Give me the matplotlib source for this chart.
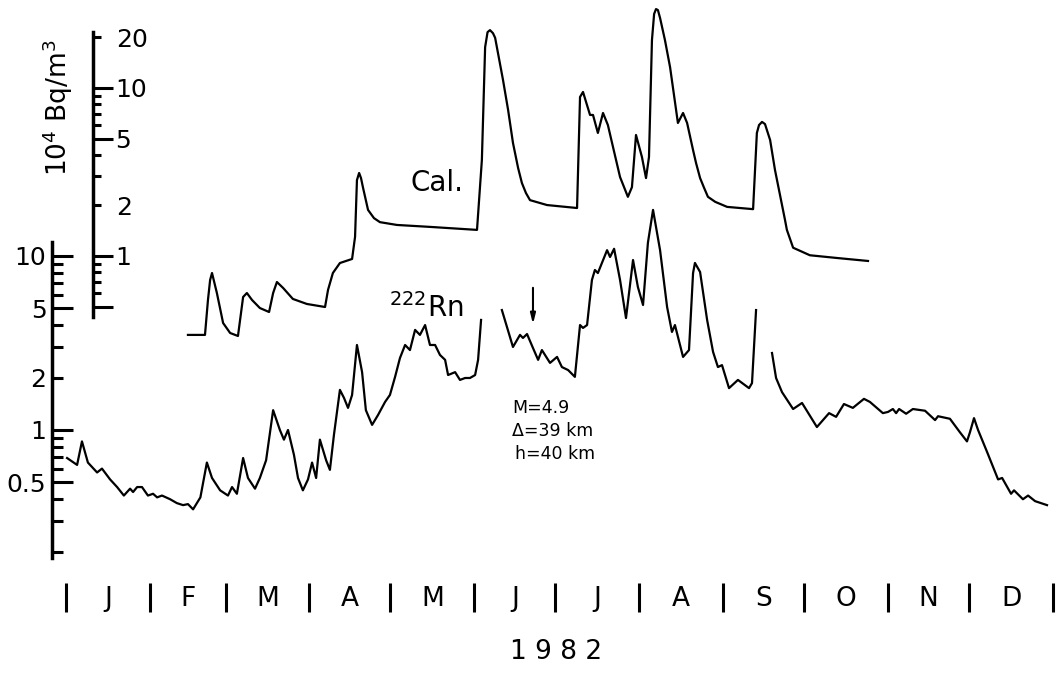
import numpy as np
import matplotlib.pyplot as plt
from matplotlib.ticker import FixedLocator, FuncFormatter, NullFormatter

# 222Rn record, day of 1982 -> concentration (three pieces, gaps between them)
rn_day_1 = [0.4, 4.1, 5.9, 8.1, 11.5, 13.3, 16.3, 18.9, 21.4, 23.7, 24.8, 26.3, 28.1,
            30.3, 32.2, 33.7, 35.5, 38.5, 41.0, 43.3, 45.1, 47.0, 49.7, 52.1, 54.0,
            57.0, 59.9, 61.4, 63.2, 65.5, 67.3, 69.9, 71.7, 74.0, 76.6, 79.1, 80.6,
            82.1, 84.3, 85.8, 87.6, 89.5, 91.0, 92.5, 93.9, 96.2, 97.6, 99.1, 101.3,
            102.8, 104.3, 105.8, 107.6, 109.5, 110.9, 113.2, 115.4, 118.0, 119.8,
            121.7, 123.5, 125.4, 127.2, 129.1, 130.9, 132.8, 134.6, 136.5, 138.3,
            140.2, 141.3, 143.9, 145.7, 147.6, 149.4, 151.3, 152.4, 153.5]
rn_val_1 = [0.69, 0.63, 0.86, 0.65, 0.57, 0.60, 0.52, 0.47, 0.42, 0.46, 0.44, 0.47, 0.47,
            0.42, 0.43, 0.41, 0.42, 0.40, 0.38, 0.37, 0.375, 0.35, 0.41, 0.65, 0.53,
            0.45, 0.42, 0.47, 0.43, 0.69, 0.53, 0.46, 0.53, 0.67, 1.30, 1.0, 0.88,
            1.0, 0.72, 0.53, 0.45, 0.52, 0.65, 0.53, 0.88, 0.67, 0.59, 0.94, 1.70,
            1.53, 1.34, 1.59, 3.08, 2.15, 1.30, 1.07, 1.22, 1.45, 1.59,
            2.02, 2.59, 3.08, 2.88, 3.76, 3.52, 4.01, 3.08, 3.08, 2.70,
            2.53, 2.07, 2.15, 1.94, 1.99, 1.99, 2.07, 2.53, 4.29]

rn_day_2 = [161.2, 165.3, 167.9, 169.0, 170.5, 172.7, 174.6, 176.0, 179.0, 181.6, 183.4,
            185.7, 188.2, 190.1, 191.2, 192.7, 194.5, 195.6, 196.7, 200.1, 201.2, 202.7,
            204.9, 207.1, 209.7, 211.5, 213.4, 215.2, 217.1, 219.7, 222.3, 224.1, 225.2,
            228.2, 230.4, 231.9, 232.6, 234.5, 237.1, 239.3, 241.1, 242.6, 245.2, 248.5,
            252.6, 253.7, 255.2]
rn_val_2 = [4.89, 3.0, 3.52, 3.38, 3.56, 2.96, 2.53, 2.88, 2.43, 2.63, 2.30,
            2.21, 2.02, 4.01, 3.86, 4.01, 7.28, 8.31, 7.98, 10.8, 9.87, 11.0,
            7.28, 4.40, 9.48, 6.63, 5.23, 11.9, 18.4, 10.8, 5.09, 3.66, 4.01,
            2.63, 2.88, 7.98, 9.12, 8.09, 4.29, 2.81, 2.30, 2.36, 1.74, 1.94,
            1.74, 1.86, 4.89]

rn_day_3 = [261.1, 262.6, 264.8, 268.9, 272.2, 277.7, 282.2, 284.8, 287.7, 291.0, 295.1,
            297.3, 302.1, 304.0, 305.8, 307.0, 308.1, 310.7, 313.2, 317.7, 321.4, 322.5,
            326.9, 330.6, 333.2, 334.3, 335.8, 337.3, 340.6, 344.7, 346.2, 349.5, 350.6,
            353.9, 355.8, 358.4, 362.8]
rn_val_3 = [2.77, 1.99, 1.65, 1.32, 1.43, 1.04, 1.25, 1.19, 1.41, 1.34, 1.51,
            1.45, 1.25, 1.27, 1.32, 1.25, 1.32, 1.24, 1.32, 1.29, 1.14, 1.20,
            1.16, 0.97, 0.86, 0.97, 1.17, 1.0, 0.75, 0.52, 0.53, 0.43, 0.45,
            0.40, 0.42, 0.39, 0.37]

# calculated curve, 10^4 Bq/m3
cal_day = [45.1, 51.4, 52.5, 53.3, 54.0, 55.8, 58.1, 60.7, 63.6, 65.5, 66.9, 68.8, 71.7,
           75.1, 76.6, 78.0, 80.3, 83.9, 89.1, 95.8, 96.9, 98.7, 101.3, 105.8, 106.9,
           107.6, 108.4, 109.1, 109.8, 111.7, 113.9, 116.1, 122.4, 134.6, 152.0, 153.8,
           155.0, 155.9, 156.8, 157.9, 158.7, 161.6, 163.5, 165.3, 167.2, 168.6, 170.1,
           171.6, 177.9, 189.0, 190.1, 191.2, 193.8, 194.9, 196.7, 198.6, 200.4, 202.3,
           204.9, 207.8, 209.3, 210.8, 213.0, 214.5, 215.6, 216.7, 217.5, 218.2, 218.9,
           219.7, 221.5, 223.4, 226.3, 228.2, 229.7, 231.9, 233.0, 234.5, 236.0, 237.4,
           240.1, 244.5, 254.1, 255.5, 256.3, 257.4, 258.5, 260.4, 262.2, 264.8, 265.9,
           266.6, 268.9, 275.1, 285.1, 296.6]
cal_val = [0.339, 0.339, 0.547, 0.72, 0.792, 0.602, 0.399, 0.348, 0.334, 0.570, 0.602,
           0.547, 0.490, 0.464, 0.602, 0.700, 0.645, 0.555, 0.518, 0.497, 0.628, 0.792,
           0.908, 0.960, 1.30, 2.83, 3.12, 2.91, 2.57, 1.88, 1.68, 1.59, 1.53, 1.49, 1.43,
           3.73, 17.5, 21.5, 22.1, 21.2, 19.9, 11.2, 7.4, 4.71, 3.34, 2.72, 2.37, 2.15,
           2.01, 1.93, 8.84, 9.47, 6.91, 6.91, 5.40, 7.10, 6.02, 4.45, 2.95, 2.25, 2.57,
           5.25, 3.88, 2.91, 3.88, 19.3, 27.6, 29.5, 29.1, 26.1, 19.3, 13.3, 6.19, 7.10,
           6.19, 4.27, 3.58, 2.91, 2.54, 2.25, 2.10, 1.96, 1.90, 5.40, 6.02, 6.28, 6.1,
           4.90, 3.25, 2.01, 1.64, 1.43, 1.12, 1.01, 0.973, 0.934]

month_edges = [0, 31, 59, 90, 120, 151, 181, 212, 243, 273, 304, 334, 365]
month_names = ['J', 'F', 'M', 'A', 'M', 'J', 'J', 'A', 'S', 'O', 'N', 'D']

rn_major = [0.5, 1, 5, 10]
rn_minor = [0.2, 0.3, 0.4, 0.6, 0.7, 0.8, 0.9, 2, 3, 4, 6, 7, 8, 9]
cal_major = [0.5, 1, 5, 10]
cal_minor = [0.6, 0.7, 0.8, 0.9, 2, 3, 4, 6, 7, 8, 9, 20]

W, H = 1061, 675
fig = plt.figure(figsize=(W / 100, H / 100), dpi=100)
rect = [52 / W, 115 / H, 1009 / W, 555 / H]
ax = fig.add_axes(rect)
ax2 = fig.add_axes(rect)

xlim = (-14 / 2.704, 995 / 2.704)
for a in (ax, ax2):
    a.set_yscale('log')
    a.set_xlim(*xlim)
    a.patch.set_visible(False)
ax.set_ylim(0.179, 277.0)
ax2.set_ylim(0.0155, 31.19)

lw = 1.6
for d, v in [(rn_day_1, rn_val_1), (rn_day_2, rn_val_2), (rn_day_3, rn_val_3)]:
    ax.plot(d, v, color='black', lw=lw, solid_joinstyle='round')
ax2.plot(cal_day, cal_val, color='black', lw=lw, solid_joinstyle='round')

# lower (Rn) axis
for s in ('top', 'right'):
    ax.spines[s].set_visible(False)
ax.spines['left'].set_linewidth(2.5)
ax.spines['left'].set_bounds(0.184, 12)
ax.yaxis.set_major_locator(FixedLocator(rn_major))
ax.yaxis.set_major_formatter(FuncFormatter(lambda v, p: '%g' % v))
ax.yaxis.set_minor_locator(FixedLocator(rn_minor))
ax.yaxis.set_minor_formatter(FuncFormatter(lambda v, p: '%g' % v if v == 2 else ''))
ax.tick_params(axis='y', which='major', direction='in', length=15, width=2.2,
               pad=4, labelsize=18)
ax.tick_params(axis='y', which='minor', direction='in', length=8, width=2.2,
               pad=4, labelsize=18)

# month separators below the plot
ax.spines['bottom'].set_position(('outward', 16.6))
ax.spines['bottom'].set_visible(False)
ax.xaxis.set_major_locator(FixedLocator(month_edges))
ax.xaxis.set_major_formatter(NullFormatter())
mids = [(a + b) / 2 for a, b in zip(month_edges[:-1], month_edges[1:])]
ax.xaxis.set_minor_locator(FixedLocator(mids))
ax.xaxis.set_minor_formatter(FuncFormatter(lambda v, p: month_names[p]))
ax.tick_params(axis='x', which='major', direction='out', length=21, width=2.2)
ax.tick_params(axis='x', which='minor', length=0, pad=2, labelsize=19)
ax.set_xlabel('1 9 8 2', fontsize=19, va='center')
ax.xaxis.set_label_coords(0.5, -0.1658)

# upper (Cal.) axis
for s in ('top', 'left', 'bottom'):
    ax2.spines[s].set_visible(False)
ax2.xaxis.set_visible(False)
ax2.yaxis.tick_right()
ax2.spines['right'].set_position(('axes', 41 / 1009))
ax2.spines['right'].set_linewidth(2.5)
ax2.spines['right'].set_bounds(0.433, 21.6)
ax2.yaxis.set_major_locator(FixedLocator(cal_major))
ax2.yaxis.set_major_formatter(FuncFormatter(lambda v, p: '' if v == 0.5 else '%g' % v))
ax2.yaxis.set_minor_locator(FixedLocator(cal_minor))
ax2.yaxis.set_minor_formatter(FuncFormatter(lambda v, p: '%g' % v if v in (2, 20) else ''))
ax2.tick_params(axis='y', which='major', direction='out', length=14.4, width=2.2,
                pad=1.5, labelsize=18)
ax2.tick_params(axis='y', which='minor', direction='out', length=6, width=2.2,
                pad=10.5, labelsize=18)
fig.text(58 / W, 1 - 108 / H, r'10$^4$ Bq/m$^3$', rotation=90,
         ha='center', va='center', fontsize=19)

# annotations
ax2.text(137.2, 2.72, 'Cal.', fontsize=20, ha='center', va='center')
ax.text(133.3, 5.03, r'$^{222}$Rn', fontsize=20, ha='center', va='center')
ax.text(164.9, 1.34, 'M=4.9', fontsize=12.5, ha='left', va='center')
ax.text(164.9, 0.987, '\u0394=39 km', fontsize=12.5, ha='left', va='center')
ax.text(165.9, 0.728, 'h=40 km', fontsize=12.5, ha='left', va='center')
ax.annotate('', xy=(172.7, 3.91), xytext=(172.7, 6.81),
            arrowprops=dict(arrowstyle='-|>,head_length=0.6,head_width=0.15',
                            color='black', lw=1.5))

fig.savefig('out.png', dpi=100)
